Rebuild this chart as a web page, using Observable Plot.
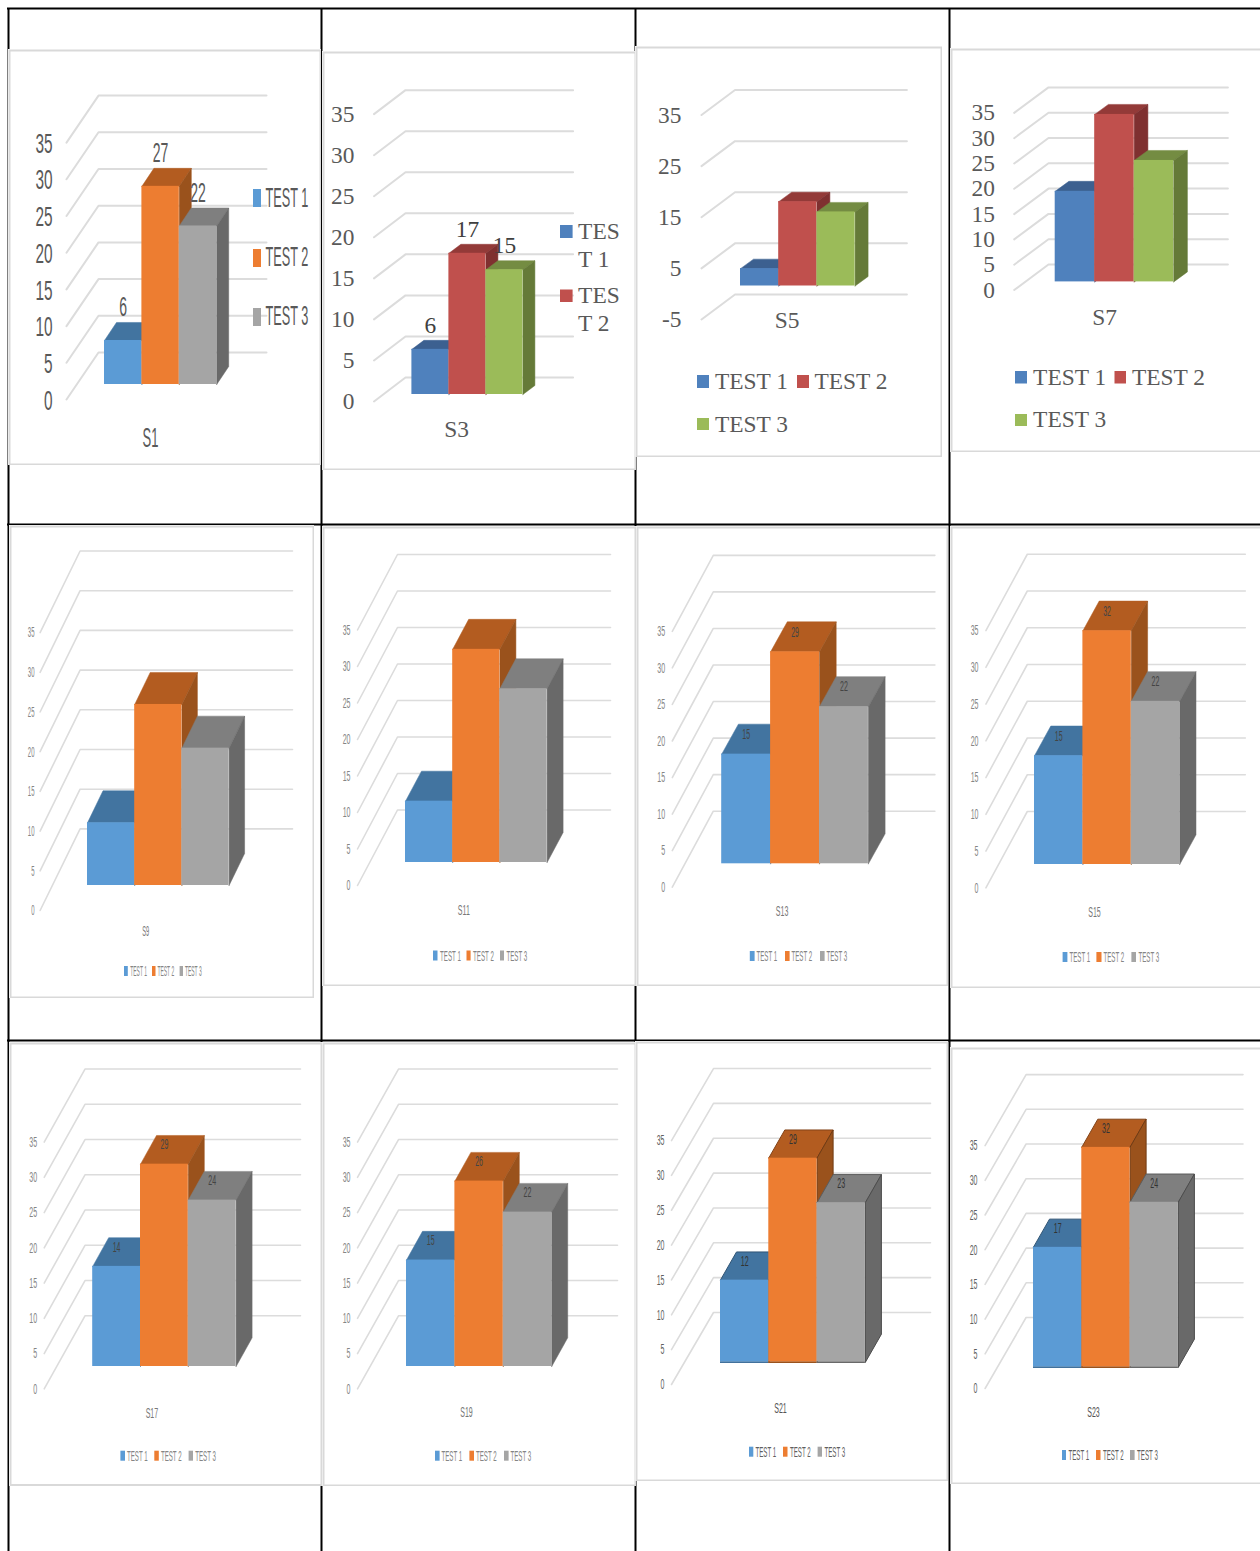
<!DOCTYPE html>
<html><head><meta charset="utf-8">
<style>html,body{margin:0;padding:0;background:#fff;overflow:hidden;width:1260px;height:1551px;position:relative}</style>
<script src="https://cdn.jsdelivr.net/npm/d3@7"></script>
<script src="https://cdn.jsdelivr.net/npm/@observablehq/plot@0.6"></script>
</head><body>
<script>
// ---- data ----
const chartNames = ["S1","S3","S5","S7","S9","S11","S13","S15","S17","S19","S21","S23"];
const seriesNames = ["TEST 1","TEST 2","TEST 3"];
const test1 = [6,5.5,3.4,17.9,7.9,8.4,15,14.8,14.2,15.1,11.8,17.3];
const test2 = [27,17.2,16.5,33.1,22.8,29.2,29,31.8,28.7,26.3,29.3,31.7];
const test3 = [21.6,15.2,14.5,24,17.3,23.8,21.5,22.2,23.6,21.9,22.9,23.8];
// printed data labels (null where the picture prints none)
const label1 = [6,6,null,null,null,null,15,15,14,15,12,17];
const label2 = [27,17,null,null,null,null,29,32,29,26,29,32];
const label3 = [22,15,null,null,null,null,22,22,24,22,23,24];
const ticksStandard = [0,5,10,15,20,25,30,35];
const ticksS5 = [-5,5,15,25,35];

// ---- styles ----
const office = {front:["#5B9BD5","#ED7D31","#A5A5A5"],top:["#4274A0","#B35C20","#7F7F7F"],side:["#41719C","#9A521C","#696969"]};
const classic = {front:["#4F81BD","#C0504D","#9BBB59"],top:["#3C6090","#933A38","#748C42"],side:["#3A5F8C","#7F3030","#657A38"]};
const tableX = [8,321,635,949], tableY = [8,524,1040];

const fontBig = {family:"Liberation Sans",fs:27,tick:.57,legend:.47,cat:.48,label:.52,tickFill:"#595959",catFill:"#595959",labelFill:"#595959",grid:2,tickDy:1.5};
const fontSerif = {family:"Liberation Serif",fs:23.4,tick:1,legend:1,cat:1,label:1,tickFill:"#595959",catFill:"#595959",labelFill:"#404040",grid:2,tickDy:0};
const fontSmall = {family:"Liberation Sans",fs:15,tick:.47,legend:.41,cat:.47,label:.47,tickFill:"#858585",catFill:"#777",labelFill:"#444",grid:1.6,tickDy:0};
const fontS9 = {...fontSmall,tick:.4,legend:.33,cat:.38};
const fontDark = {...fontSmall,tickFill:"#5f5f5f",catFill:"#555",labelFill:"#333"};

const row = (sw, tx, yc, h) => ({sw:sw.map(s=>[s[0],s[1],yc-h/2,yc+h/2]),tx,ty:tx.map(()=>yc)});

const layouts = [
 {box:[8,49,321,465],bar:[104,37.4],floor:384,unit:7.34,front:[66,399],back:[98,352],end:266,tickR:52,depth:[12,18],pal:office,font:fontBig,ticks:ticksStandard,cat:[150,438],labelUp:15,
  legend:{sw:[[253,261,189,207],[253,261,249,267],[253,261,308,326]],tx:[265,265,265],ty:[198,257,316]}},
 {box:[322,51,636,470],bar:[411.4,37],floor:394,unit:8.21,front:[373.5,401],back:[405,377],end:572.6,tickR:354,depth:[12,9],pal:classic,font:fontSerif,ticks:ticksStandard,cat:[456,429],labelUp:15,
  legend:{sw:[[560,572.6,225,238],[560,572.6,289.5,302]],tx:[577.6,577.6,577.6,577.6],ty:[231,259,295,323],text:["TES","T 1","TES","T 2"],pal:[0,1]}},
 {box:[635,46,942,457],bar:[740,38.2],floor:285.5,unit:5.11,front:[701,293.4],back:[734.5,268.4],end:906.4,tickR:681,depth:[13,9.5],pal:classic,font:fontSerif,ticks:ticksS5,cat:[786.7,320],
  legend:{sw:[[697,709,375,388],[797,809,375,388],[697,709,418,430]],tx:[714.4,814,714.4],ty:[381,381,424]}},
 {box:[950,48,1262,452],bar:[1054.7,39.5],floor:281.4,unit:5.06,front:[1013.7,289.5],back:[1048,264],end:1227.4,tickR:994.4,depth:[13.7,10],pal:classic,font:fontSerif,ticks:ticksStandard,cat:[1104,316.5],
  legend:{sw:[[1015,1027,371,383.5],[1114.5,1126,371,383.5],[1015,1027,414,426]],tx:[1032.6,1131.4,1032.6],ty:[377,377,419]}},
 {box:[9,525,314,998],bar:[87,47.2],floor:885,unit:7.94,front:[39.6,910],back:[79.6,828.4],end:292,tickR:34,depth:[15.5,32],pal:office,font:fontS9,ticks:ticksStandard,cat:[145.3,930.5],
  legend:row([[124,127.8],[152,155.5],[179.6,183]],[129.8,157,184.5],971,10)},
 {box:[322,526,636,986],bar:[405,47.2],floor:862,unit:7.3,front:[357,885],back:[397,809.5],end:610,tickR:350,depth:[16,30],pal:office,font:fontSmall,ticks:ticksStandard,cat:[463.3,910],
  legend:row([[433,437.5],[466.5,470.6],[500,504]],[439.6,472.6,506],955.5,10)},
 {box:[636,526,948,986],bar:[721.2,48.9],floor:863.3,unit:7.31,front:[671.8,886.7],back:[712.8,810.7],end:934.4,tickR:664.6,depth:[16.7,30],pal:office,font:fontSmall,ticks:ticksStandard,cat:[781.6,910.7],labelUp:-10,
  legend:row([[749.8,754.6],[785,789.6],[820,824.6]],[756,791,826],956,10)},
 {box:[950,526,1262,988],bar:[1034,48.4],floor:864,unit:7.35,front:[985.4,887.3],back:[1026.8,811],end:1244.8,tickR:978,depth:[16.3,29.7],pal:office,font:fontSmall,ticks:ticksStandard,cat:[1094,912],labelUp:-10,
  legend:row([[1062.6,1067.4],[1096.4,1101.5],[1131.4,1136]],[1069,1103,1138],957,10)},
 {box:[9,1042,322,1485.5],bar:[92.2,47.8],floor:1366,unit:7.05,front:[43.7,1388.3],back:[84.5,1315.3],end:300,tickR:36.7,depth:[16,28.7],pal:office,font:fontSmall,ticks:ticksStandard,cat:[151.4,1412.3],labelUp:-9,
  legend:row([[120.4,125],[154.3,158.8],[188.6,193]],[126.5,160.4,194.7],1455.7,10)},
 {box:[322,1042,636,1486],bar:[406,48.4],floor:1366,unit:7.05,front:[357,1388.3],back:[398,1315.3],end:617,tickR:350,depth:[16,28.7],pal:office,font:fontSmall,ticks:ticksStandard,cat:[466,1412],labelUp:-9,
  legend:row([[435,439.6],[469.4,474],[504,508.6]],[441,475.5,510],1455.7,10)},
 {box:[635,1041,948,1481],bar:[720,48.3],floor:1361.7,unit:6.97,front:[671,1384],back:[713,1312],end:930,tickR:664,depth:[16,28],pal:office,font:fontDark,ticks:ticksStandard,cat:[780,1408],labelUp:-9,outline:true,
  legend:row([[749,753.3],[783,787.5],[817.6,822]],[755,789.5,824],1451.7,10)},
 {box:[950,1047,1262,1484],bar:[1033,48.3],floor:1366.7,unit:6.94,front:[984.6,1388],back:[1025.6,1317],end:1242.5,tickR:977,depth:[16,28],pal:office,font:fontDark,ticks:ticksStandard,cat:[1093,1412],labelUp:-9,outline:true,
  legend:row([[1062,1066],[1096,1100.5],[1130,1134.6]],[1068,1102.5,1136.6],1455,10)}
];

// ---- table rules behind the panels ----
const page = Plot.plot({
  width:1260,height:1551,margin:0,
  x:{domain:[0,1260],range:[0,1260],axis:null},
  y:{domain:[0,1551],range:[0,1551],axis:null},
  style:{position:"absolute",left:"0px",top:"0px",maxWidth:"none",background:"#fff"},
  marks:[
    Plot.ruleX(tableX,{x:d=>d,y1:8,y2:1551,stroke:"#000",strokeWidth:2}),
    Plot.ruleY(tableY,{y:d=>d,x1:7,x2:1260,stroke:"#000",strokeWidth:2})
  ]
});
document.body.appendChild(page);

// ---- one Plot per chart; bars run through each chart's own x/y scales ----
function panel(i){
  const L = layouts[i], [l,t,r,b] = L.box, f = L.font, P = L.pal;
  const X = px => (px-L.bar[0])/L.bar[1];       // page pixel -> bar units
  const Y = py => (L.floor-py)/L.unit;          // page pixel -> value units
  const DX = L.depth[0]/L.bar[1], DY = L.depth[1]/L.unit;
  const vals = [test1[i],test2[i],test3[i]];
  const labs = [label1[i],label2[i],label3[i]];
  const front = Y(L.front[1]), back = Y(L.back[1]);
  const marks = [Plot.frame({stroke:"#D9D9D9",strokeWidth:2,inset:1})];
  // walls
  const grid = L.ticks.flatMap(v=>[
    {t:v,x:X(L.front[0]),y:v+front},{t:v,x:X(L.back[0]),y:v+back},{t:v,x:X(L.end),y:v+back}]);
  marks.push(Plot.line(grid,{x:"x",y:"y",z:"t",stroke:"#DCDCDC",strokeWidth:f.grid,curve:"linear"}));
  // bars
  vals.forEach((v,k)=>{
    const poly=(pts,fill)=>Plot.line(pts.map(p=>({x:p[0],y:p[1]})),{x:"x",y:"y",fill,
       stroke:L.outline?d3.color(fill).darker(.9).formatHex():fill,strokeWidth:L.outline?1:.5,curve:"linear"});
    marks.push(poly([[k,v],[k+1,v],[k+1+DX,v+DY],[k+DX,v+DY],[k,v]],P.top[k]));
    marks.push(poly([[k+1,0],[k+1+DX,DY],[k+1+DX,v+DY],[k+1,v],[k+1,0]],P.side[k]));
    marks.push(Plot.rect([{v,k}],{x1:d=>d.k,x2:d=>d.k+1,y1:0,y2:d=>d.v,fill:P.front[k],inset:0}));
    if(L.outline) marks.push(Plot.ruleY([0],{x1:k,x2:k+1,stroke:P.side[k],strokeWidth:1.5}));
  });
  // tick labels
  marks.push(Plot.text(L.ticks,{x:()=>X(L.tickR),y:v=>v+front,text:v=>String(v),textAnchor:"end",dy:f.tickDy,
     fontFamily:f.family,fontSize:f.fs,fill:f.tickFill,ariaLabel:()=>"tick"}));
  // category
  marks.push(Plot.text([chartNames[i]],{x:()=>X(L.cat[0]),y:()=>Y(L.cat[1]),text:d=>d,
     fontFamily:f.family,fontSize:f.fs,fill:f.catFill,ariaLabel:()=>"cat"}));
  // data labels
  const dl = labs.map((s,k)=>({s,k,v:vals[k]})).filter(d=>d.s!=null);
  if(dl.length) marks.push(Plot.text(dl,{x:d=>d.k+.5,y:d=>d.v+DY+L.labelUp/L.unit,text:d=>String(d.s),
     fontFamily:f.family,fontSize:f.fs,fill:f.labelFill,ariaLabel:()=>"label"}));
  // legend
  const lg = L.legend, names = lg.text||seriesNames;
  lg.sw.forEach((s,k)=>{
    marks.push(Plot.rect([s],{x1:d=>X(d[0]),x2:d=>X(d[1]),y1:d=>Y(d[3]),y2:d=>Y(d[2]),fill:P.front[k]}));
  });
  marks.push(Plot.text(names.map((n,k)=>({n,k})),{x:d=>X(lg.tx[d.k]),y:d=>Y(lg.ty[d.k]),text:d=>d.n,textAnchor:"start",
     fontFamily:f.family,fontSize:f.fs,fill:f.tickFill,ariaLabel:()=>"legend"}));
  const svg = Plot.plot({
    width:r-l,height:b-t,margin:0,
    x:{type:"linear",domain:[X(l),X(r)],range:[0,r-l],axis:null},
    y:{type:"linear",domain:[Y(t),Y(b)],range:[0,b-t],axis:null},
    style:{position:"absolute",left:l+"px",top:t+"px",maxWidth:"none",background:"#fff",overflow:"hidden"},
    marks
  });
  // condense the narrow-type labels of the picture
  for(const key of ["tick","cat","label","legend"]){
    if(f[key]===1) continue;
    svg.querySelectorAll(`[aria-label="${key}"]`).forEach(tx=>{
      if(tx.tagName.toLowerCase()!=="text") return;
      tx.setAttribute("transform",(tx.getAttribute("transform")||"")+` scale(${f[key]},1)`);
    });
  }
  document.body.appendChild(svg);
}
layouts.forEach((_,i)=>panel(i));
</script>
</body></html>
